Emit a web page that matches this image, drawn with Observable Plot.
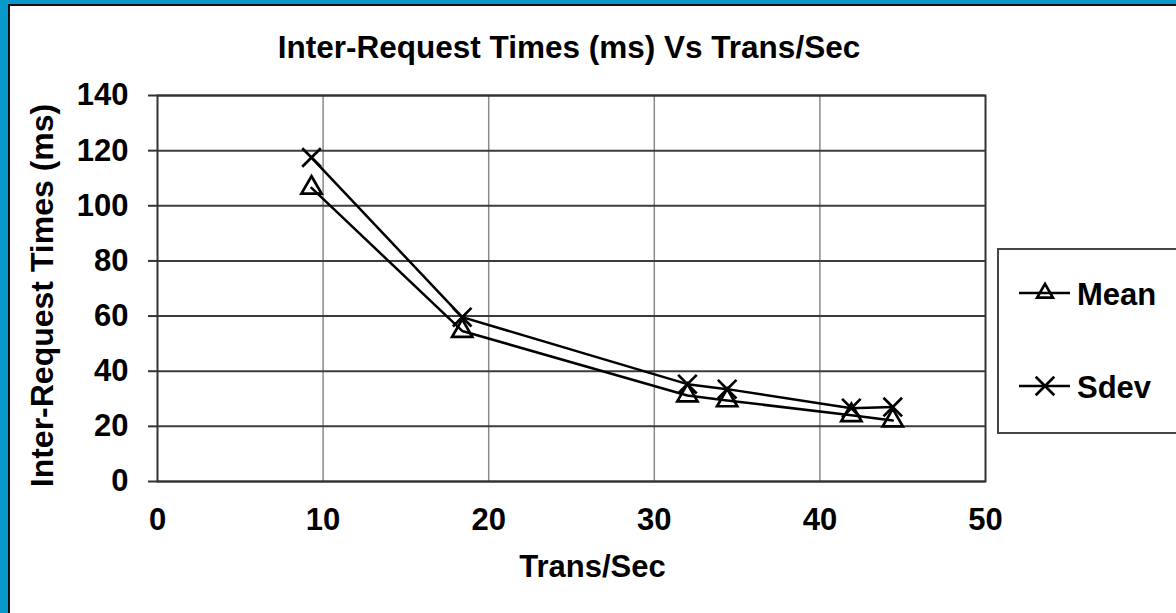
<!DOCTYPE html>
<html><head><meta charset="utf-8">
<script src="https://cdn.jsdelivr.net/npm/d3@7"></script>
<script src="https://cdn.jsdelivr.net/npm/@observablehq/plot@0.6"></script>
<style>
html,body{margin:0;padding:0;overflow:hidden;background:#0898c9;}
#wrap{position:relative;width:1176px;height:613px;overflow:hidden;background:#0898c9;font-family:"Liberation Sans",Arial,sans-serif;font-weight:bold;}
#panel{position:absolute;left:8px;top:4px;width:1200px;height:640px;background:#fff;border-left:2px solid #111;border-top:2px solid #111;}
#title{position:absolute;left:269px;width:600px;top:32px;text-align:center;font-size:31.5px;line-height:31px;color:#000;white-space:nowrap;}
#chart{position:absolute;left:0;top:80px;}
#legend{position:absolute;left:997px;top:248px;}
</style></head><body>
<div id="wrap"><div id="panel"></div><div id="title"></div><div id="chart"></div><div id="legend"></div></div>
<script>
const titleText = "Inter-Request Times (ms) Vs Trans/Sec";
const xLabel = "Trans/Sec";
const yLabel = "Inter-Request Times (ms)";
const transPerSec = [9.3, 18.4, 32.0, 34.4, 41.9, 44.4];
const meanMs = [106.5, 54.6, 31.2, 29.4, 24.0, 22.1];
const sdevMs = [117.5, 59.6, 35.3, 33.5, 26.6, 27.0];
const seriesNames = ["Mean", "Sdev"];
const seriesSymbols = ["triangle", "times"];
const xTicks = [0, 10, 20, 30, 40, 50];
const xGridTicks = [10, 20, 30, 40];
const yTicks = [0, 20, 40, 60, 80, 100, 120, 140];

document.getElementById("title").textContent = titleText;

const meanRows = transPerSec.map((x, i) => ({x, y: meanMs[i], series: seriesNames[0]}));
const sdevRows = transPerSec.map((x, i) => ({x, y: sdevMs[i], series: seriesNames[1]}));

const font = '"Liberation Sans", Arial, sans-serif';
const chart = Plot.plot({
  width: 1000, height: 533,
  marginLeft: 157, marginRight: 15, marginTop: 15, marginBottom: 132,
  style: {fontFamily: font, fontWeight: "bold", fontSize: "31px", color: "#000", background: "transparent", overflow: "visible"},
  x: {domain: [0, 50]},
  y: {domain: [0, 140]},
  marks: [
    Plot.gridX({ticks: xGridTicks, stroke: "#8a8a8a", strokeOpacity: 1, strokeWidth: 1.5}),
    Plot.gridY({ticks: yTicks, stroke: "#3c3c3c", strokeOpacity: 1, strokeWidth: 2}),
    Plot.frame({stroke: "#333", strokeWidth: 2}),
    Plot.axisY({ticks: yTicks, tickSize: 9, tickPadding: 20, label: null, stroke: "#333", strokeWidth: 2, fill: "#000"}),
    Plot.axisX({ticks: xTicks, tickSize: 0, tickPadding: 26, label: null, fill: "#000"}),
    Plot.text([yLabel], {text: d => d, frameAnchor: "left", rotate: -90, dx: -115, dy: 7, textAnchor: "middle", lineAnchor: "middle", fill: "#000", fontSize: 32, fontWeight: "bold"}),
    Plot.text([xLabel], {text: d => d, frameAnchor: "bottom", dx: 21, dy: 86, textAnchor: "middle", lineAnchor: "middle", fill: "#000", fontSize: 31, fontWeight: "bold"}),
    Plot.line(meanRows, {x: "x", y: "y", stroke: "#000", strokeWidth: 2.5}),
    Plot.line(sdevRows, {x: "x", y: "y", stroke: "#000", strokeWidth: 2.5}),
    Plot.dot(meanRows, {x: "x", y: "y", symbol: seriesSymbols[0], r: 7.5, stroke: "#000", strokeWidth: 2.7, fill: "none"}),
    Plot.dot(sdevRows, {x: "x", y: "y", symbol: seriesSymbols[1], r: 8.5, stroke: "#000", strokeWidth: 2.7, fill: "none"})
  ]
});
document.getElementById("chart").appendChild(chart);

// Legend
const leg = d3.select("#legend").append("svg").attr("width", 200).attr("height", 190)
  .style("font-family", font).style("font-weight", "bold").style("font-size", "31px");
leg.append("rect").attr("x", 1).attr("y", 1).attr("width", 300).attr("height", 184)
  .attr("fill", "#fff").attr("stroke", "#444").attr("stroke-width", 2);
const symMap = {triangle: d3.symbolTriangle2, times: d3.symbolTimes};
const rs = [7.5, 8.5];
const rowsY = [45, 138];
seriesNames.forEach((name, i) => {
  const g = leg.append("g");
  g.append("line").attr("x1", 22).attr("x2", 73).attr("y1", rowsY[i]).attr("y2", rowsY[i])
    .attr("stroke", "#000").attr("stroke-width", 2.5);
  g.append("path").attr("d", d3.symbol(symMap[seriesSymbols[i]], Math.PI * rs[i] * rs[i])())
    .attr("transform", `translate(48,${rowsY[i]})`).attr("fill", "none").attr("stroke", "#000").attr("stroke-width", 2.7);
  g.append("text").attr("x", 80).attr("y", rowsY[i] + 11.5).attr("fill", "#000").text(name);
});
</script>
</body></html>
